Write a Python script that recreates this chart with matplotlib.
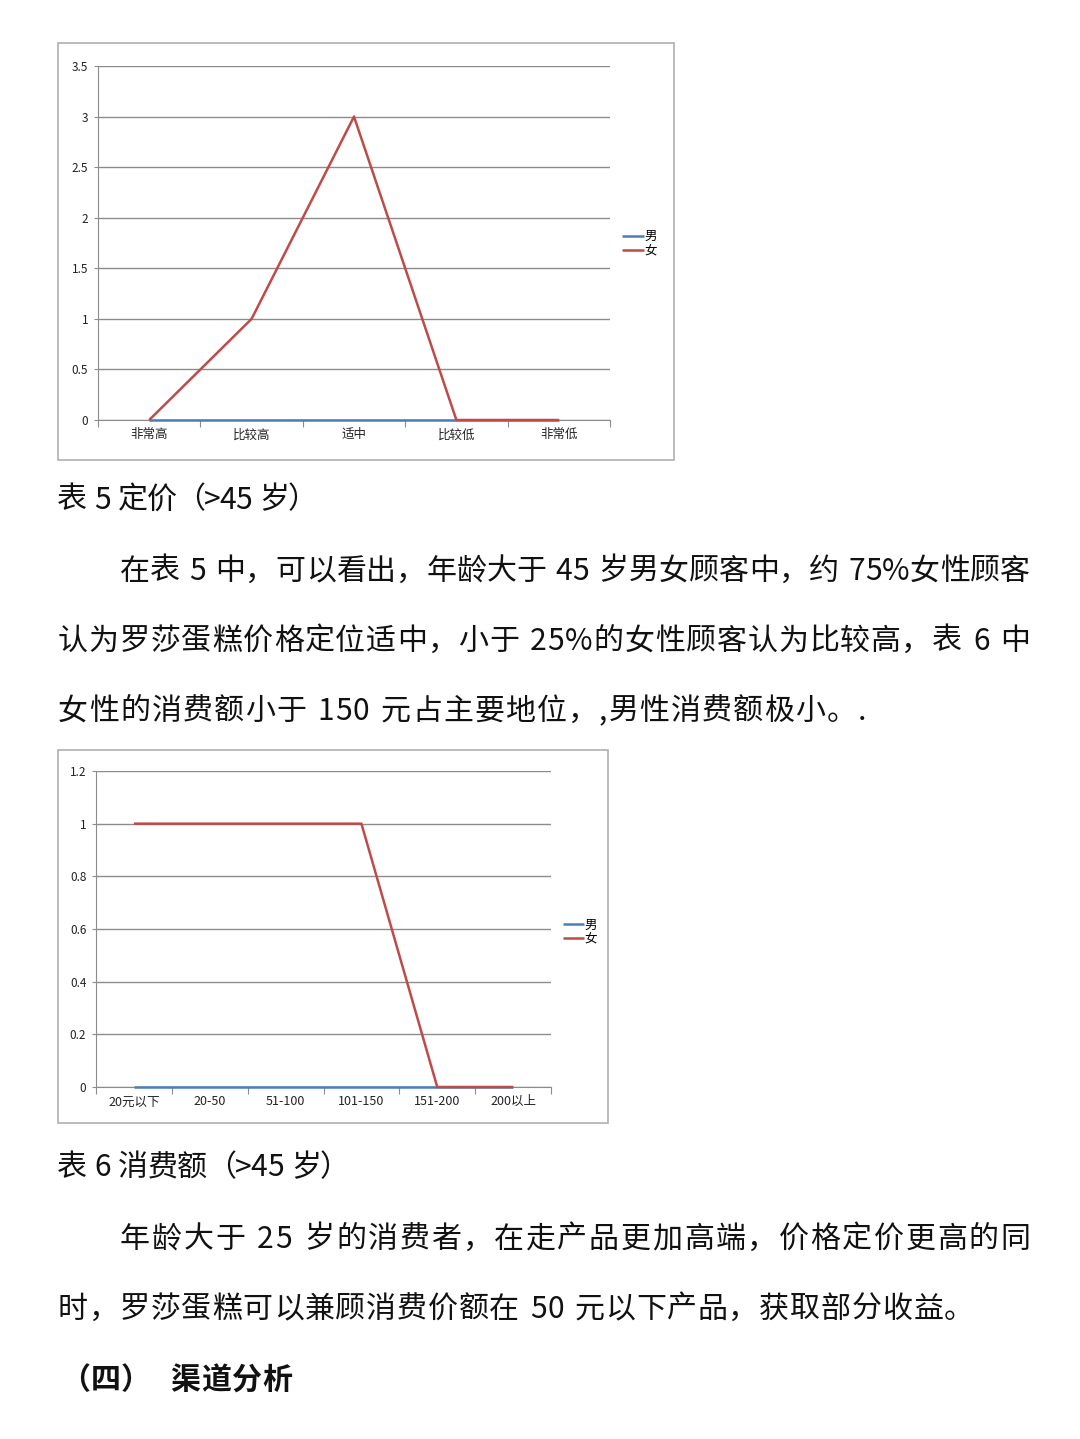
import matplotlib
matplotlib.use('Agg')
import matplotlib.pyplot as plt
from matplotlib.patches import Rectangle
from matplotlib.ticker import FuncFormatter

plt.rcParams['font.family'] = ['Noto Sans CJK SC', 'DejaVu Sans']

W, H = 1080, 1439

# chart 1 data (定价 >45 岁)
cats1 = ['非常高', '比较高', '适中', '比较低', '非常低']
male1 = [0, 0, 0, 0, 0]
female1 = [0, 1, 3, 0, 0]
yticks1 = [0, 0.5, 1, 1.5, 2, 2.5, 3, 3.5]

# chart 2 data (消费额 >45 岁)
cats2 = ['20元以下', '20-50', '51-100', '101-150', '151-200', '200以上']
male2 = [0, 0, 0, 0, 0, 0]
female2 = [1, 1, 1, 1, 0, 0]
yticks2 = [0, 0.2, 0.4, 0.6, 0.8, 1, 1.2]

series_names = ['男', '女']
BLUE = '#4a7ebb'
RED = '#be4b48'

caption5 = '表 5 定价（>45 岁）'
para1 = ['在表 5 中，可以看出，年龄大于 45 岁男女顾客中，约 75%女性顾客',
         '认为罗莎蛋糕价格定位适中，小于 25%的女性顾客认为比较高，表 6 中',
         '女性的消费额小于 150 元占主要地位，,男性消费额极小。.']
caption6 = '表 6 消费额（>45 岁）'
para2 = ['年龄大于 25 岁的消费者，在走产品更加高端，价格定价更高的同',
         '时，罗莎蛋糕可以兼顾消费价额在 50 元以下产品，获取部分收益。']
heading = '（四）  渠道分析'

fig = plt.figure(figsize=(W / 100, H / 100), dpi=100)
fig.patch.set_facecolor('white')


def px_axes(x0, y0, x1, y1):
    return fig.add_axes([x0 / W, 1 - y1 / H, (x1 - x0) / W, (y1 - y0) / H])


def frame(x0, y0, x1, y1):
    fig.patches.append(Rectangle((x0 / W, 1 - y1 / H), (x1 - x0) / W, (y1 - y0) / H,
                                 transform=fig.transFigure, fill=False,
                                 edgecolor='#b0b0b0', linewidth=1.2))


def line_chart(ax, cats, male, female, yticks, leg_y):
    xs = range(len(cats))
    ax.plot(xs, male, color=BLUE, lw=1.8, label=series_names[0],
            solid_capstyle='butt', clip_on=False, zorder=3)
    ax.plot(xs, female, color=RED, lw=1.8, label=series_names[1],
            solid_capstyle='butt', clip_on=False, zorder=4)
    ax.set_xlim(-0.5, len(cats) - 0.5)
    ax.set_ylim(yticks[0], yticks[-1])
    ax.set_yticks(yticks)
    ax.yaxis.set_major_formatter(FuncFormatter(lambda v, p: '%g' % v))
    ax.set_xticks([i - 0.5 for i in range(len(cats) + 1)])
    ax.set_xticklabels([])
    ax.set_xticks(list(xs), minor=True)
    ax.set_xticklabels(cats, minor=True)
    ax.tick_params(axis='x', which='major', length=5, color='#8c8c8c', direction='out')
    ax.tick_params(axis='x', which='minor', length=0, labelsize=9, pad=6, labelcolor='#222222')
    ax.tick_params(axis='y', length=3, color='#8c8c8c', labelsize=8.5, labelcolor='#222222', pad=4)
    ax.grid(axis='y', color='#8c8c8c', lw=1)
    ax.set_axisbelow(True)
    for s in ['top', 'right']:
        ax.spines[s].set_visible(False)
    ax.spines['left'].set_color('#8c8c8c')
    ax.spines['bottom'].set_color('#8c8c8c')
    ax.legend(loc='center left', bbox_to_anchor=(1.012, leg_y), frameon=False,
              fontsize=9, handlelength=1.7, handletextpad=0.05, labelspacing=0.1,
              borderpad=0)


# chart 1
frame(58, 43, 674, 460)
ax1 = px_axes(98, 66, 610, 420)
line_chart(ax1, cats1, male1, female1, yticks1, 0.497)

# chart 2
frame(58, 750, 608, 1123)
ax2 = px_axes(96, 771, 551, 1087)
line_chart(ax2, cats2, male2, female2, yticks2, 0.49)

FS = 21.6
DY = 3  # small baseline correction vs the Song font in the scan
renderer = fig.canvas.get_renderer()


def put_line(text, x0, y, x1=None, weight='normal'):
    y = y + DY
    if x1 is None:
        fig.text(x0 / W, 1 - y / H, text, fontsize=FS, va='center', ha='left',
                 color='#111111', weight=weight)
        return
    # justify: draw character by character, spreading the spare width
    widths = []
    for ch in text:
        t = fig.text(0, 0, ch, fontsize=FS, weight=weight)
        widths.append(t.get_window_extent(renderer).width if ch != ' ' else FS * 100 / 72 * 0.3)
        t.remove()
    spare = (x1 - x0) - sum(widths)
    gap = spare / (len(text) - 1)
    x = x0
    for ch, w in zip(text, widths):
        if ch != ' ':
            fig.text(x / W, 1 - y / H, ch, fontsize=FS, va='center', ha='left',
                     color='#111111', weight=weight)
        x += w + gap


put_line(caption5, 57, 497, 318)
put_line(para1[0], 120, 568, 1030)
put_line(para1[1], 58, 638, 1030)
put_line(para1[2], 58, 708, 866)
put_line(caption6, 57, 1165, 350)
put_line(para2[0], 120, 1236, 1030)
put_line(para2[1], 58, 1306, 974)
put_line(heading, 60, 1377, 292, weight='bold')

fig.savefig('out.png', dpi=100, facecolor='white')
